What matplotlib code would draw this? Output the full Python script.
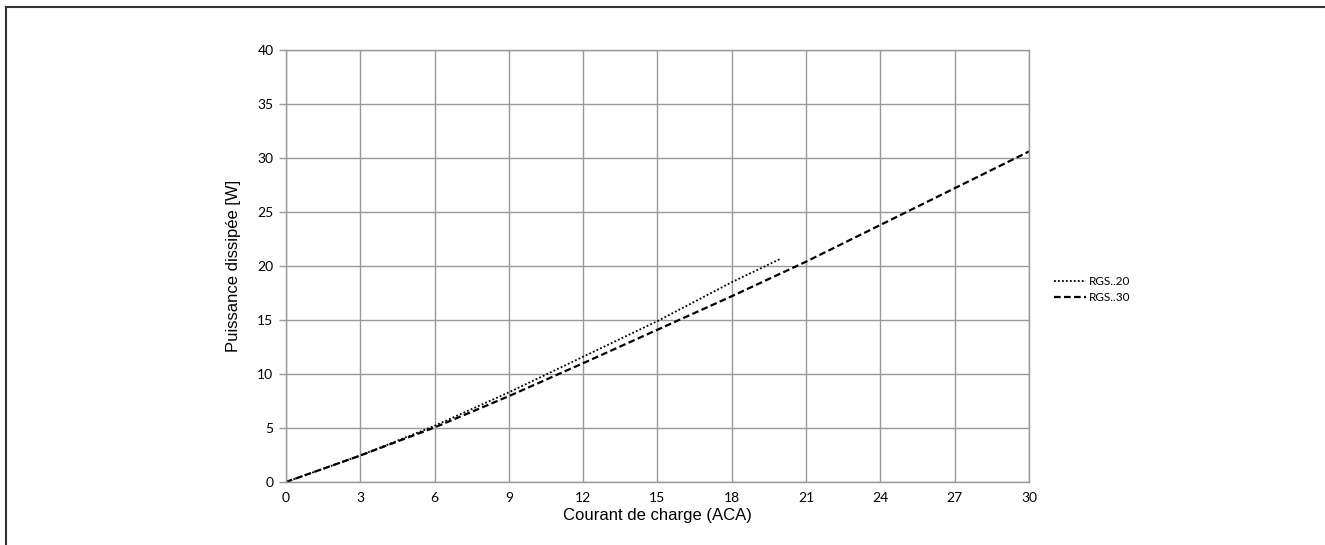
import matplotlib.pyplot as plt
from matplotlib.lines import Line2D

# valeurs
courant_20 = [0, 3, 6, 9, 12, 15, 18, 20]
puissance_20 = [0, 2.45, 5.2, 8.3, 11.6, 14.9, 18.5, 20.7]

courant_30 = [0, 3, 6, 9, 12, 15, 18, 21, 24, 27, 30]
puissance_30 = [0, 2.45, 5.05, 7.95, 11.0, 14.1, 17.2, 20.4, 23.8, 27.2, 30.6]

x_ticks = list(range(0, 31, 3))
y_ticks = list(range(0, 41, 5))

tick_font = "Lato"
label_font = "Liberation Sans"
grid_col = "#999999"

fig = plt.figure(figsize=(13.25, 5.45), dpi=100)
ax = fig.add_axes([0.2158, 0.1156, 0.7766 - 0.2158, 0.9083 - 0.1156])

ax.plot(courant_20, puissance_20, color="black", linestyle=(0, (1, 1.2)), linewidth=1.3, label="RGS..20")
ax.plot(courant_30, puissance_30, color="black", linestyle=(0, (3, 1.5)), linewidth=1.6, label="RGS..30")

ax.set_xlim(0, 30)
ax.set_ylim(0, 40)
ax.set_xticks(x_ticks)
ax.set_yticks(y_ticks)
ax.grid(True, color=grid_col, linewidth=1)
ax.set_axisbelow(True)
for s in ["top", "right", "left", "bottom"]:
    ax.spines[s].set_color(grid_col)
    ax.spines[s].set_linewidth(1)
ax.tick_params(axis="both", colors=grid_col, length=5, width=1, labelcolor="black", labelsize=10)
ax.tick_params(axis="x", length=0, pad=7)
ax.tick_params(axis="y", pad=4)
for lab in ax.get_xticklabels() + ax.get_yticklabels():
    lab.set_fontfamily(tick_font)

ax.set_xlabel("Courant de charge (ACA)", fontsize=12, family=label_font, labelpad=3)
ax.set_ylabel("Puissance dissipée [W]", fontsize=12, family=label_font, labelpad=12)

leg = ax.legend(loc="center left", bbox_to_anchor=(1.034, 0.446), frameon=False,
                prop={"family": tick_font, "size": 8.5}, handlelength=2.7,
                handletextpad=0.2, labelspacing=0.45, borderpad=0, borderaxespad=0)

# cadre de la figure (gauche et haut)
fig.add_artist(Line2D([6 / 1325, 6 / 1325], [0, 1 - 7 / 545], color="#333333", linewidth=1.5))
fig.add_artist(Line2D([6 / 1325, 1], [1 - 7 / 545, 1 - 7 / 545], color="#333333", linewidth=1.5))

plt.savefig("out.png", dpi=100)
